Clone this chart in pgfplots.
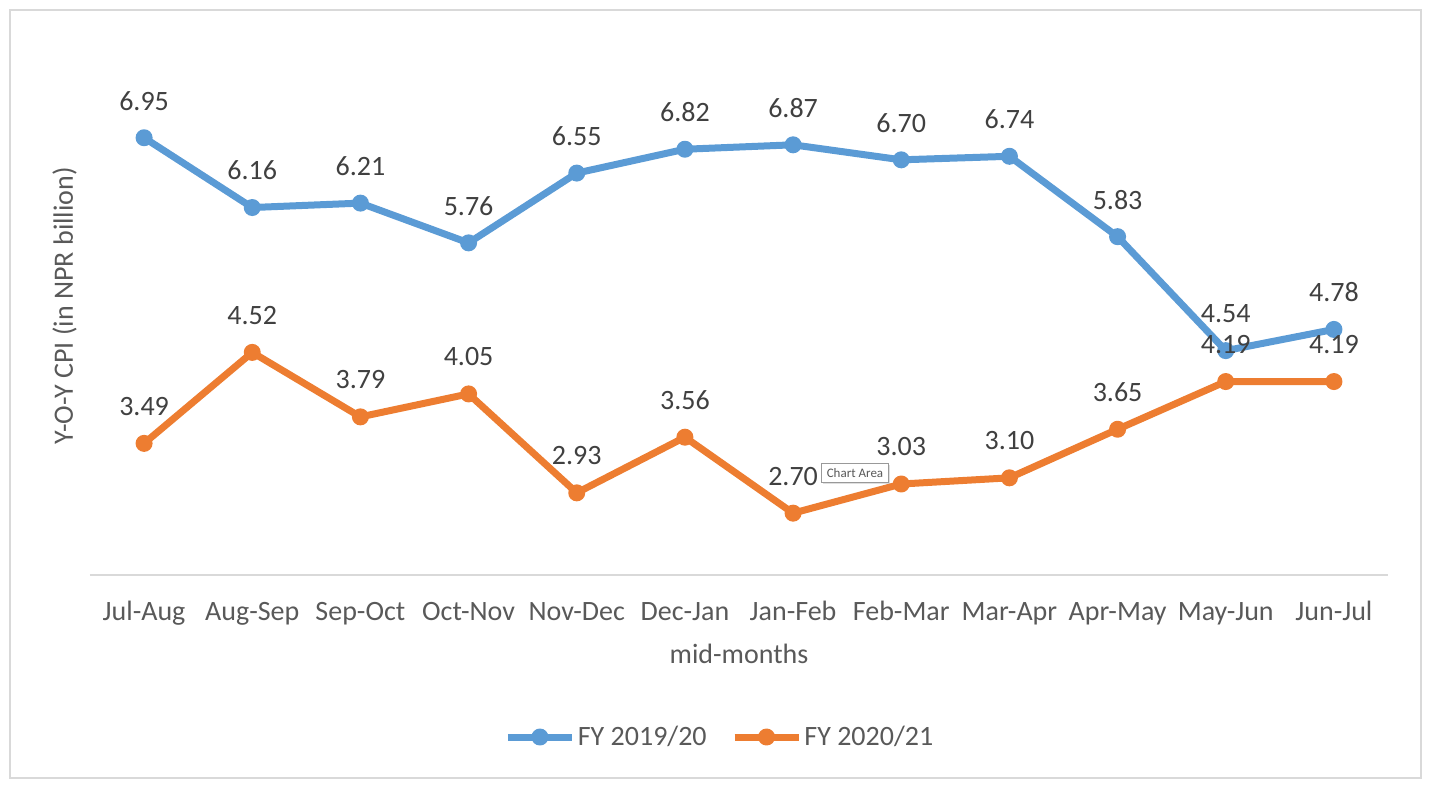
\documentclass[border=0pt]{standalone}
\usepackage{pgfplots}
\pgfplotsset{compat=1.18}
\usepackage{fontspec}
\setmainfont{Carlito}
\usetikzlibrary{shadows}
\definecolor{cblue}{HTML}{5B9BD5}
\definecolor{corange}{HTML}{ED7D31}
\definecolor{labgray}{HTML}{404040}
\definecolor{txtgray}{HTML}{595959}
\definecolor{linegray}{HTML}{D9D9D9}

\begin{document}
\begin{tikzpicture}
\path[use as bounding box] (0,0) rectangle (715.5pt,394pt);
\draw[linegray, line width=1pt] (5pt,5pt) rectangle (710.5pt,389pt);
\begin{axis}[
    at={(45pt,106.5pt)}, anchor=south west,
    scale only axis, width=649pt, height=265pt,
    xmin=-0.5, xmax=11.5, ymin=2, ymax=8,
    clip=false,
    axis x line=bottom,
    axis y line=left,
    x axis line style={-, draw=linegray, line width=1pt},
    y axis line style={draw=none},
    ytick=\empty,
    xtick=data,
    major tick length=0pt,
    xticklabels={Jul-Aug,Aug-Sep,Sep-Oct,Oct-Nov,Nov-Dec,Dec-Jan,Jan-Feb,Feb-Mar,Mar-Apr,Apr-May,May-Jun,Jun-Jul},
    xticklabel style={anchor=base, yshift=-23pt, text=txtgray, font=\fontsize{14}{17}\selectfont},
    xlabel={mid-months},
    xlabel style={at={(axis description cs:0.5,0)}, anchor=base, yshift=-44.5pt, text=txtgray, font=\fontsize{14}{17}\selectfont},
    ylabel={Y-O-Y CPI (in NPR billion)},
    ylabel style={at={(axis description cs:-0.0131,0.5075)}, anchor=base, text=txtgray, font=\fontsize{14}{17}\selectfont},
    every axis plot/.append style={line width=3.5pt, line join=round, mark=*, mark size=3.75pt},
    nodes near coords={\pgfmathprintnumber[fixed, fixed zerofill, precision=2, assume math mode=true]{\pgfplotspointmeta}},
    point meta=y,
    every node near coord/.append style={anchor=center, yshift=18.5pt, text=labgray, font=\fontsize{14}{17}\selectfont},
    legend columns=2,
    legend style={at={(axis description cs:0.4854,-0.3057)}, anchor=center, draw=none, fill=none,
        font=\fontsize{14}{17}\selectfont, text=txtgray,
        /tikz/every even column/.append style={column sep=11pt},
        nodes={inner sep=1.2pt}},
    legend image code/.code={\draw[mark repeat=2, mark phase=2, #1] plot coordinates {(0pt,0pt) (16pt,0pt) (32pt,0pt)};},
]
\addplot[color=cblue, mark options={solid, line width=1pt, fill=cblue}] coordinates {
(0,6.95) (1,6.16) (2,6.21) (3,5.76) (4,6.55) (5,6.82) (6,6.87) (7,6.70) (8,6.74) (9,5.83) (10,4.54) (11,4.78)
};
\addlegendentry{FY 2019/20}
\addplot[color=corange, mark options={solid, line width=1pt, fill=corange}] coordinates {
(0,3.49) (1,4.52) (2,3.79) (3,4.05) (4,2.93) (5,3.56) (6,2.70) (7,3.03) (8,3.10) (9,3.65) (10,4.19) (11,4.19)
};
\addlegendentry{FY 2020/21}
\end{axis}
\node[draw=gray!80, fill=white, text=txtgray, font=\fontsize{6.5}{8}\selectfont, inner sep=2.5pt,
      drop shadow={opacity=0.25, shadow xshift=0.8pt, shadow yshift=-0.8pt}] at (427.5pt,157.5pt) {Chart Area};
\end{tikzpicture}
\end{document}
